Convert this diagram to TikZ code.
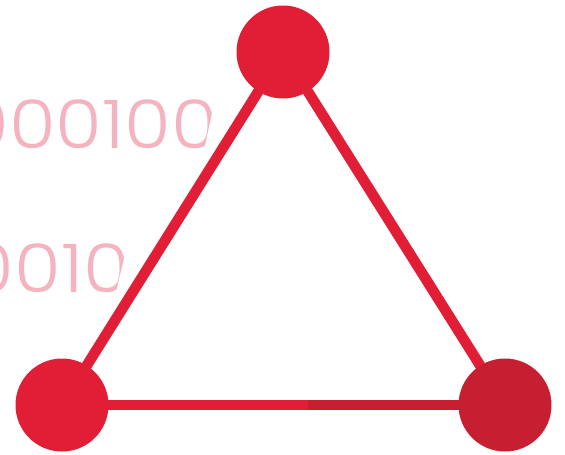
\documentclass[tikz,border=0pt]{standalone}
\usepackage{fontspec}
\newfontfamily\digitfont{Poppins Light}
\definecolor{netred}{HTML}{E21D36}
\definecolor{netdark}{HTML}{C61F32}
\definecolor{bitpink}{HTML}{F5B2BF}
\tikzset{
  dot/.style={circle, fill=#1, draw=none, minimum size=93pt, inner sep=0pt},
  link/.style={line width=10.5pt, draw=#1, line cap=butt},
  bits/.style={text=bitpink, inner sep=0pt, anchor=base east, xscale=1.13, font=\digitfont\fontsize{67}{67}\selectfont},
  mask/.style={fill=white, draw=none}
}
\begin{document}
\begin{tikzpicture}[x=1pt,y=-1pt]
\useasboundingbox (0,0) rectangle (565,455);
\clip (0,0) rectangle (565,455);
\fill[white] (0,0) rectangle (565,455);
% binary text
\node[bits] (b1) at (218,148) {000100};
\node[bits] (b2) at (130,292) {0010};
% white cuts
\fill[mask] (216.5,92) -- (300,92) -- (300,160) -- (202,160) -- cycle;
\fill[mask] (129,238) -- (200,238) -- (200,300) -- (114,300) -- cycle;
% node positions
\coordinate (t) at (283,52);
\coordinate (l) at (62,405);
\coordinate (r) at (505,405);
\coordinate (m) at (308,405);
% connectors
\draw[link=netred] (t) -- (l);
\draw[link=netred] (t) -- (r);
\draw[link=netred] (l) -- (m);
\draw[link=netdark] (m) -- (r);
% nodes
\node[dot=netred] (top) at (t) {};
\node[dot=netred] (left) at (l) {};
\node[dot=netdark] (right) at (r) {};
\end{tikzpicture}
\end{document}
